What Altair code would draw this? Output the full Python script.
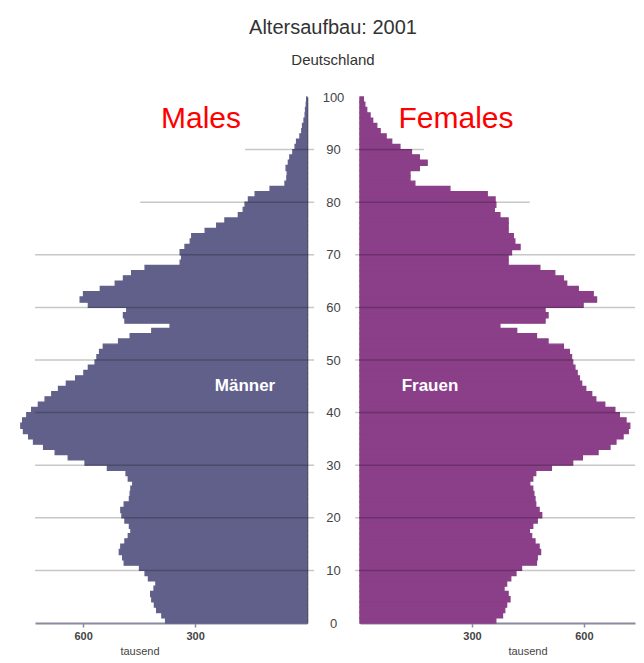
import altair as alt
import pandas as pd

ages = list(range(100))
male = [379, 389, 403, 409, 416, 419, 410, 405, 425, 434,
        449, 490, 494, 503, 499, 488, 479, 472, 476, 488,
        496, 499, 490, 476, 474, 472, 467, 479, 485, 535,
        595, 640, 675, 706, 733, 746, 760, 767, 762, 751,
        738, 720, 702, 684, 666, 645, 620, 598, 586, 568,
        563, 556, 546, 505, 474, 416, 367, 488, 492, 483,
        586, 608, 599, 554, 514, 492, 470, 434, 340, 336,
        340, 327, 313, 309, 273, 242, 220, 184, 171, 166,
        157, 139, 99, 59, 54, 53, 56, 50, 46, 38,
        32, 28, 19, 14, 12, 8, 5, 4, 2, 1]
female = [364, 382, 388, 393, 402, 397, 386, 393, 404, 418,
          433, 473, 475, 484, 480, 469, 460, 454, 463, 475,
          487, 480, 471, 469, 466, 463, 455, 463, 471, 513,
          570, 596, 638, 670, 686, 705, 719, 723, 713, 695,
          683, 656, 632, 621, 605, 594, 588, 582, 576, 570,
          567, 561, 545, 504, 473, 420, 375, 496, 504, 496,
          598, 634, 625, 585, 554, 545, 522, 482, 397, 397,
          406, 429, 415, 411, 397, 397, 397, 375, 360, 364,
          362, 341, 241, 147, 134, 134, 159, 180, 159, 138,
          107, 85, 70, 54, 45, 34, 27, 18, 13, 9]

grid_ages = [10, 20, 30, 40, 50, 60, 70, 80, 90]
male_grid_from = [729, 729, 729, 729, 729, 729, 729, 447, 166]
female_grid_to = [737, 737, 737, 737, 737, 737, 737, 455, 171]
age_ticks = [0, 10, 20, 30, 40, 50, 60, 70, 80, 90, 100]
x_ticks = [300, 600]

title_text = "Altersaufbau: 2001"
subtitle_text = "Deutschland"
male_en, female_en = "Males", "Females"
male_de, female_de = "Männer", "Frauen"
unit_text = "tausend"

MALE_C = "#60608a"
FEMALE_C = "#8a3f88"
GRID_C = "#000000"
TXT = "#444444"

W_M, W_F, H = 299, 276, 615

dm = pd.DataFrame({"age": ages, "pop": male})
dm["age2"] = dm["age"] + 1
dm["zero"] = 0
df = pd.DataFrame({"age": ages, "pop": female})
df["age2"] = df["age"] + 1
df["zero"] = 0

gm = pd.DataFrame({"age": grid_ages, "start": male_grid_from, "end": [-19] * len(grid_ages)})
gf = pd.DataFrame({"age": grid_ages, "start": [-13] * len(grid_ages), "end": female_grid_to})

yscale = alt.Scale(domain=[0, 100], range=[615, 89], nice=False, zero=False)
xm_scale = alt.Scale(domain=[0, 729], range=[299, 27], nice=False)
xf_scale = alt.Scale(domain=[0, 737], range=[0, 275], nice=False)

x_axis_common = dict(values=x_ticks, grid=False, title=None, domainColor="#8a8aa0",
                     domainWidth=2, tickColor="#8a8aa0", tickSize=4, tickWidth=1.5,
                     labelFontSize=11, labelFontWeight="bold", labelColor=TXT,
                     labelPadding=3, labelFont="Liberation Sans")

ym_axis = alt.Axis(orient="right", values=age_ticks, labels=False, ticks=False, grid=False,
                   title=None, domainColor="#333333", domainWidth=1.5)
yf_axis = alt.Axis(orient="left", values=age_ticks, ticks=False, tickSize=0, grid=False,
                   title=None, domainColor="#333333", domainWidth=1.5,
                   labelAlign="center", labelBaseline="middle", labelPadding=27,
                   labelFontSize=13, labelColor=TXT, labelFont="Liberation Sans")

male_bars = alt.Chart(dm).mark_bar(color=MALE_C, stroke=MALE_C, strokeWidth=1.3).encode(
    x=alt.X("pop:Q", scale=xm_scale, axis=alt.Axis(**x_axis_common)),
    x2="zero:Q",
    y=alt.Y("age:Q", scale=yscale, axis=ym_axis),
    y2="age2:Q",
)
male_grid = alt.Chart(gm).mark_rule(color=GRID_C, opacity=0.22, strokeWidth=1.5).encode(
    x=alt.X("start:Q", scale=xm_scale), x2="end:Q", y=alt.Y("age:Q", scale=yscale)
)


def txt(text, x, y, size, color, weight="normal"):
    return alt.Chart(pd.DataFrame({"t": [text]})).mark_text(
        fontSize=size, color=color, fontWeight=weight, font="Liberation Sans",
        align="center", baseline="middle"
    ).encode(text="t:N", x=alt.value(x), y=alt.value(y))


male_panel = alt.layer(
    male_bars, male_grid,
    txt(title_text, 325, 20, 20, "#333333"),
    txt(subtitle_text, 325, 52, 15, "#333333"),
    txt(male_en, 193, 111, 30, "#ff0000"),
    txt(female_en, 448, 111, 30, "#ff0000"),
    txt(male_de, 237, 378, 17, "#ffffff", "bold"),
    txt(unit_text, 132, 644, 11, TXT),
).properties(width=W_M, height=H)

female_bars = alt.Chart(df).mark_bar(color=FEMALE_C, stroke=FEMALE_C, strokeWidth=1.3).encode(
    x=alt.X("pop:Q", scale=xf_scale, axis=alt.Axis(**x_axis_common)),
    x2="zero:Q",
    y=alt.Y("age:Q", scale=yscale, axis=yf_axis),
    y2="age2:Q",
)
female_grid = alt.Chart(gf).mark_rule(color=GRID_C, opacity=0.22, strokeWidth=1.5).encode(
    x=alt.X("start:Q", scale=xf_scale), x2="end:Q", y=alt.Y("age:Q", scale=yscale)
)
female_panel = alt.layer(
    female_bars, female_grid,
    txt(female_de, 70, 378, 17, "#ffffff", "bold"),
    txt(unit_text, 168, 644, 11, TXT),
).properties(width=W_F, height=H)

chart = alt.hconcat(male_panel, female_panel, spacing=53, bounds="flush").properties(
    padding=0, background="#ffffff"
).configure_view(stroke=None)

chart.save("out.html", embed_options={"renderer": "svg", "actions": False})
